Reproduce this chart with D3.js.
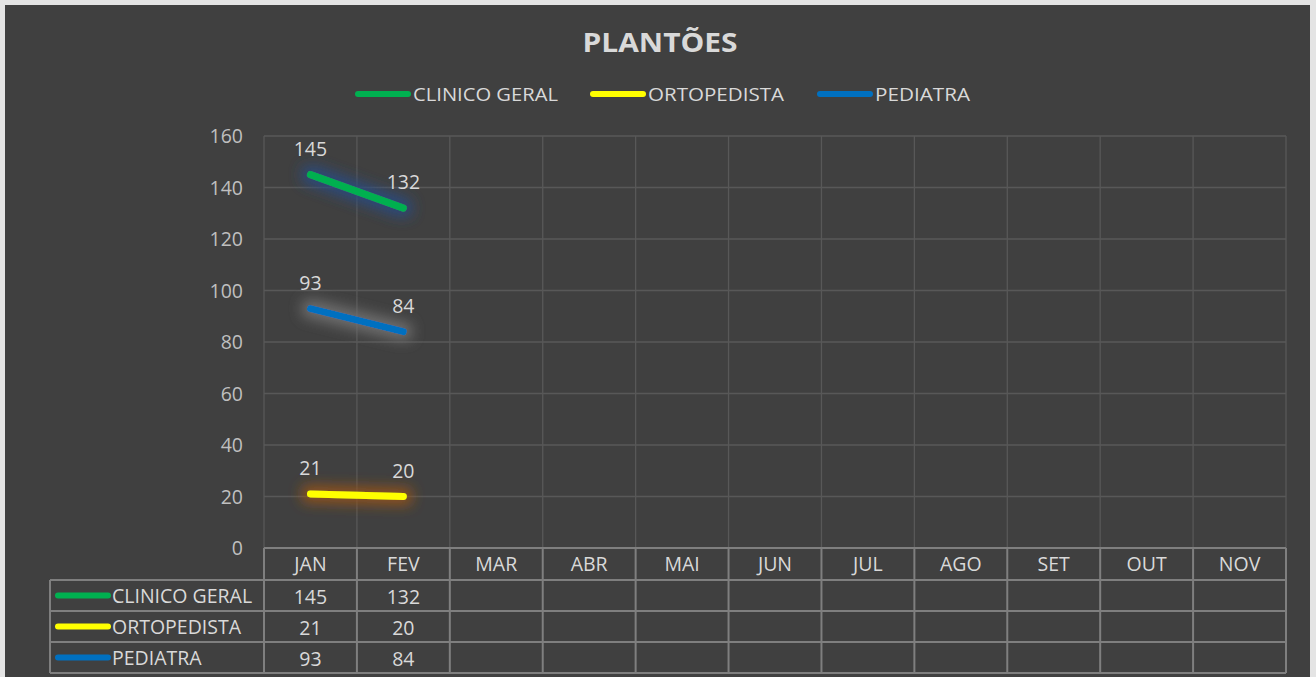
<!DOCTYPE html>
<html>
<head>
<meta charset="utf-8">
<script src="https://cdn.jsdelivr.net/npm/d3@7"></script>
<style>
  body { margin: 0; background: #e4e4e4; }
  svg { display: block; }
</style>
</head>
<body>
<div id="chart"></div>
<script>
// data
var months = ["JAN", "FEV", "MAR", "ABR", "MAI", "JUN", "JUL", "AGO", "SET", "OUT", "NOV"];
var seriesNames = ["CLINICO GERAL", "ORTOPEDISTA", "PEDIATRA"];
var clinicoGeral = [145, 132];
var ortopedista = [21, 20];
var pediatra = [93, 84];
var yTicks = [0, 20, 40, 60, 80, 100, 120, 140, 160];

var colors = ["#00b050", "#ffff00", "#0070c0"];
var glows = ["#2a4a7e", "#94531a", "#707070"];
var allValues = [clinicoGeral, ortopedista, pediatra];

var W = 1316, H = 677;
var margin = {top: 136, left: 264, right: 30, bottom: 129};
var plotW = 1286 - margin.left, plotH = 548 - margin.top;

var svg = d3.select("#chart").append("svg")
    .attr("width", W).attr("height", H);

// filters for the soft glow round each line
var defs = svg.append("defs");
glows.forEach(function(c, i) {
  var f = defs.append("filter").attr("id", "glow" + i)
    .attr("filterUnits", "userSpaceOnUse")
    .attr("x", -100).attr("y", -100).attr("width", 600).attr("height", 700);
  f.append("feMorphology").attr("in", "SourceAlpha").attr("operator", "dilate").attr("radius", 5).attr("result", "d");
  f.append("feGaussianBlur").attr("in", "d").attr("stdDeviation", 6.5).attr("result", "b");
  f.append("feFlood").attr("flood-color", c).attr("flood-opacity", 0.95);
  f.append("feComposite").attr("in2", "b").attr("operator", "in").attr("result", "g");
  var m = f.append("feMerge");
  m.append("feMergeNode").attr("in", "g");
  m.append("feMergeNode").attr("in", "SourceGraphic");
});

svg.append("rect").attr("x", 5).attr("y", 5).attr("width", 1305).attr("height", H)
  .attr("fill", "#404040");

var textColor = "#d9d9d9";
var bodyFont = "'Open Sans', 'Noto Sans', sans-serif";
var fs = 19.5;

// title
svg.append("text").attr("x", 660).attr("y", 52).attr("text-anchor", "middle")
  .attr("font-family", bodyFont).attr("font-weight", "bold")
  .attr("font-size", 26).attr("textLength", 155).attr("lengthAdjust", "spacingAndGlyphs")
  .attr("fill", textColor).text("PLANTÕES");

// legend
var legendX = [355, 590, 817];
var legendW = [145, 136, 95];
seriesNames.forEach(function(n, i) {
  var g = svg.append("g").attr("transform", "translate(" + legendX[i] + ",94)");
  g.append("line").attr("x1", 3).attr("x2", 53).attr("y1", 0).attr("y2", 0)
    .attr("stroke", colors[i]).attr("stroke-width", 6).attr("stroke-linecap", "round");
  g.append("text").attr("x", 58).attr("y", 6.5).attr("font-family", bodyFont)
    .attr("font-size", 18).attr("textLength", legendW[i]).attr("lengthAdjust", "spacingAndGlyphs")
    .attr("fill", textColor).text(n);
});

var x = d3.scaleBand().domain(months).range([0, plotW]);
var y = d3.scaleLinear().domain([0, 160]).range([plotH, 0]);

var plot = svg.append("g").attr("transform", "translate(" + margin.left + "," + margin.top + ")");

// gridlines
plot.selectAll(".hg").data(yTicks.filter(function(t) { return t > 0; })).enter().append("line")
  .attr("x1", 0).attr("x2", plotW)
  .attr("y1", function(d) { return y(d); }).attr("y2", function(d) { return y(d); })
  .attr("stroke", "#585858").attr("stroke-width", 1.3);
var vlines = months.map(function(m) { return x(m); }).concat([plotW]);
plot.selectAll(".vg").data(vlines).enter().append("line")
  .attr("x1", function(d) { return d; }).attr("x2", function(d) { return d; })
  .attr("y1", 0).attr("y2", plotH)
  .attr("stroke", "#585858").attr("stroke-width", 1.3);

// y axis labels
plot.selectAll(".yl").data(yTicks).enter().append("text")
  .attr("x", -21).attr("y", function(d) { return y(d) + 7; })
  .attr("text-anchor", "end").attr("font-family", bodyFont).attr("font-size", fs)
  .attr("fill", "#bfbfbf").text(function(d) { return d; });

// lines
var line = d3.line()
  .x(function(d, i) { return x(months[i]) + x.bandwidth() / 2; })
  .y(function(d) { return y(d); });

allValues.forEach(function(vals, i) {
  plot.append("path").datum(vals)
    .attr("d", line).attr("fill", "none")
    .attr("stroke", colors[i]).attr("stroke-width", 7)
    .attr("stroke-linecap", "round").attr("stroke-linejoin", "round")
    .attr("filter", "url(#glow" + i + ")");
  plot.selectAll(".dl" + i).data(vals).enter().append("text")
    .attr("x", function(d, j) { return x(months[j]) + x.bandwidth() / 2; })
    .attr("y", function(d) { return y(d) - 19; })
    .attr("text-anchor", "middle").attr("font-family", bodyFont).attr("font-size", fs)
    .attr("fill", textColor).text(function(d) { return d; });
});

// data table
var rowH = 31;
var tbl = plot.append("g").attr("transform", "translate(0," + plotH + ")");
var border = "#7f7f7f";

// header row
tbl.append("line").attr("x1", 0).attr("x2", plotW).attr("y1", 0).attr("y2", 0)
  .attr("stroke", border).attr("stroke-width", 2);
tbl.selectAll(".mh").data(months).enter().append("text")
  .attr("x", function(d) { return x(d) + x.bandwidth() / 2; })
  .attr("y", 23).attr("text-anchor", "middle").attr("font-family", bodyFont)
  .attr("font-size", fs).attr("fill", textColor).text(function(d) { return d; });

var left = 50 - margin.left;
for (var r = 0; r <= 3; r++) {
  var yy = 32 + r * rowH;
  tbl.append("line").attr("x1", left).attr("x2", plotW).attr("y1", yy).attr("y2", yy)
    .attr("stroke", border).attr("stroke-width", 2);
}
tbl.selectAll(".vb").data(vlines).enter().append("line")
  .attr("x1", function(d) { return d; }).attr("x2", function(d) { return d; })
  .attr("y1", 0).attr("y2", 32 + 3 * rowH)
  .attr("stroke", border).attr("stroke-width", 2);
tbl.append("line").attr("x1", left).attr("x2", left).attr("y1", 32).attr("y2", 32 + 3 * rowH)
  .attr("stroke", border).attr("stroke-width", 2);

seriesNames.forEach(function(n, i) {
  var cy = 32 + i * rowH + rowH / 2;
  tbl.append("line").attr("x1", left + 8).attr("x2", left + 58).attr("y1", cy).attr("y2", cy)
    .attr("stroke", colors[i]).attr("stroke-width", 6).attr("stroke-linecap", "round");
  tbl.append("text").attr("x", left + 62).attr("y", cy + 7).attr("font-family", bodyFont)
    .attr("font-size", fs).attr("fill", textColor).text(n);
  tbl.selectAll(".cv" + i).data(allValues[i]).enter().append("text")
    .attr("x", function(d, j) { return x(months[j]) + x.bandwidth() / 2; })
    .attr("y", cy + 8).attr("text-anchor", "middle").attr("font-family", bodyFont)
    .attr("font-size", fs).attr("fill", textColor).text(function(d) { return d; });
});
</script>
</body>
</html>
